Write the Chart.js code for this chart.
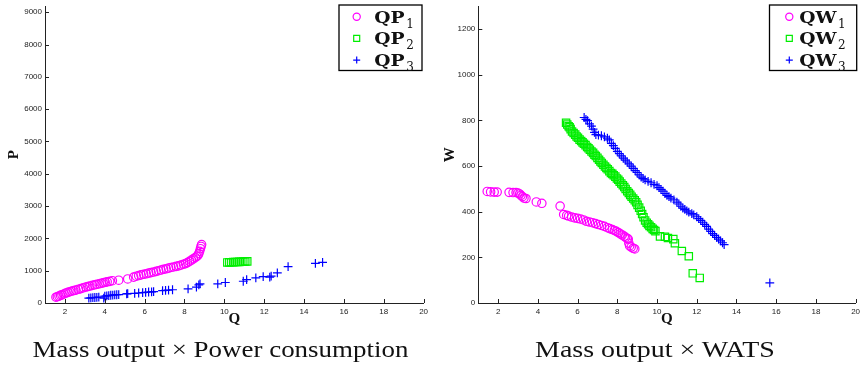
<!DOCTYPE html>
<html>
<head>
<meta charset="utf-8">
<script src="https://cdn.jsdelivr.net/npm/chart.js@4.4.0/dist/chart.umd.min.js"></script>
<style>
  body { margin: 0; width: 862px; height: 370px; overflow: hidden; background: #fff; position: relative; }
  .box { position: absolute; top: 0; }
  .cap { position: absolute; top: 336.6px; font-family: "Liberation Serif", serif; font-size: 24px; line-height: 24px;
         white-space: nowrap; color: #111; transform-origin: center; }
</style>
</head>
<body>
<div class="box" style="left:0"><canvas id="chartP" width="430" height="370"></canvas></div>
<div class="box" style="left:430px"><canvas id="chartW" width="432" height="370"></canvas></div>
<div id="capP" class="cap">Mass output × Power consumption</div>
<div id="capW" class="cap">Mass output × WATS</div>
<script>
// ---- data ----
var qTicks = [2, 4, 6, 8, 10, 12, 14, 16, 18, 20];
var pTicks = [0, 1000, 2000, 3000, 4000, 5000, 6000, 7000, 8000, 9000];
var wTicks = [0, 200, 400, 600, 800, 1000, 1200];

// Mass output x Power consumption
var qp1Q = [1.55,1.62,1.7,1.78,1.85,1.95,2.05,2.15,2.25,2.35,2.45,2.55,2.68,2.8,2.92,3.05,3.15,3.25,3.38,3.5,3.6,3.72,3.82,3.92,4.02,4.12,4.25,4.38,4.7,5.15,5.45,5.58,5.7,5.82,5.95,6.08,6.2,6.32,6.45,6.58,6.7,6.82,6.95,7.08,7.2,7.32,7.45,7.58,7.7,7.82,7.95,8.05,8.15,8.25,8.35,8.45,8.55,8.62,8.68,8.72,8.76,8.8,8.83,8.86];
var qp1P = [180,195,215,235,255,280,310,330,350,370,385,400,425,445,470,495,510,525,545,565,580,595,610,625,640,655,670,690,705,745,800,830,850,870,890,905,925,940,960,980,1000,1020,1045,1060,1080,1100,1115,1135,1150,1175,1200,1220,1250,1290,1330,1370,1410,1440,1480,1530,1600,1680,1750,1810];
var qp2Q = [10.15,10.25,10.35,10.45,10.55,10.65,10.75,10.85,10.95,11.05,11.15];
var qp2P = [1255,1258,1262,1265,1268,1270,1273,1276,1280,1284,1288];
var qp3Q = [3.2,3.3,3.4,3.5,3.6,3.7,3.95,4.0,4.1,4.2,4.3,4.4,4.5,4.6,4.7,5.1,5.15,5.5,5.7,5.9,6.05,6.2,6.35,6.45,6.9,7.05,7.2,7.4,8.18,8.6,8.72,8.78,9.67,10.05,10.95,11.12,11.58,11.95,12.28,12.35,12.66,13.2,14.57,14.93];
var qp3P = [150,160,165,170,175,180,150,210,220,230,240,245,250,255,260,280,290,300,310,320,330,340,345,350,380,390,400,410,440,490,560,594,594,634,673,725,777,817,800,830,930,1123,1224,1255];

// Mass output x WATS
var qw1Q = [1.45,1.62,1.8,1.95,2.55,2.75,2.9,3.0,3.08,3.15,3.22,3.3,3.4,3.92,4.2,5.12,5.3,5.45,5.55,5.7,5.85,6.0,6.15,6.3,6.45,6.6,6.75,6.9,7.05,7.2,7.35,7.5,7.62,7.75,7.85,7.95,8.05,8.15,8.25,8.35,8.42,8.5,8.55,8.58,8.62,8.7,8.8,8.88];
var qw1W = [489,487,486,486,485,484,484,482,478,472,466,460,458,443,437,425,388,384,381,377,373,371,368,364,358,355,352,348,344,340,336,330,326,322,318,314,309,303,298,292,288,283,280,262,250,245,240,237];
var qw2Q = [5.42,5.48,5.55,5.6,5.65,5.72,5.8,5.88,5.95,6.02,6.1,6.18,6.25,6.32,6.4,6.48,6.55,6.62,6.7,6.78,6.85,6.92,7.0,7.08,7.15,7.22,7.3,7.38,7.45,7.52,7.6,7.68,7.75,7.82,7.9,7.98,8.05,8.12,8.2,8.28,8.35,8.42,8.5,8.58,8.65,8.72,8.8,8.88,8.95,9.02,9.1,9.18,9.25,9.32,9.4,9.48,9.55,9.62,9.7,9.78,9.85,9.92,10.15,10.4,10.55,10.82,10.9,11.25,11.6,11.8,12.15];
var qw2W = [790,782,775,770,762,752,745,738,730,724,716,710,704,698,692,684,678,672,664,658,650,644,636,628,620,614,606,598,592,586,578,570,566,560,554,546,540,532,524,516,508,500,490,482,474,466,458,450,442,430,418,404,390,376,362,352,345,338,332,325,320,315,292,290,285,280,262,228,205,130,110];
var qw3Q = [6.33,6.42,6.5,6.6,6.7,6.78,6.85,6.92,7.05,7.2,7.35,7.5,7.6,7.7,7.8,7.9,8.0,8.1,8.2,8.3,8.4,8.5,8.6,8.7,8.8,8.9,9.0,9.1,9.2,9.3,9.4,9.55,9.7,9.85,10.0,10.1,10.2,10.3,10.4,10.5,10.6,10.7,10.85,11.0,11.1,11.2,11.3,11.4,11.5,11.6,11.75,11.85,12.0,12.1,12.2,12.3,12.4,12.5,12.6,12.7,12.8,12.9,13.0,13.1,13.2,13.3,13.38,15.68];
var qw3W = [813,805,799,785,775,762,748,738,736,733,728,722,715,700,690,678,665,655,645,635,626,618,610,600,590,580,572,562,552,545,540,533,527,520,514,506,498,490,480,472,466,460,452,442,434,424,416,410,404,398,392,386,378,370,362,354,345,336,324,314,304,296,288,280,272,264,256,88];

var magenta = '#ff00ff', green = '#00ee00', blue = '#0000ff';
var axisColor = '#222';

function pts(xs, ys) {
  return xs.map(function (x, i) { return { x: x, y: ys[i] }; });
}

function drawMarker(ctx, style, x, y, color) {
  ctx.strokeStyle = color;
  ctx.lineWidth = 1.2;
  ctx.beginPath();
  if (style === 'circle') {
    ctx.arc(x, y, 3.6, 0, Math.PI * 2);
  } else if (style === 'rect') {
    ctx.rect(x - 3, y - 3, 6, 6);
  } else {
    ctx.moveTo(x - 3.5, y); ctx.lineTo(x + 3.5, y);
    ctx.moveTo(x, y - 3.5); ctx.lineTo(x, y + 3.5);
  }
  ctx.stroke();
}

// boxed legend with subscripts, like the matlab one
var boxLegend = {
  id: 'boxLegend',
  afterDraw: function (chart, args, o) {
    var ctx = chart.ctx;
    ctx.save();
    ctx.fillStyle = '#fff';
    ctx.fillRect(o.x, o.y, o.w, o.h);
    ctx.strokeStyle = '#000';
    ctx.lineWidth = 1.3;
    ctx.strokeRect(o.x, o.y, o.w, o.h);
    chart.data.datasets.forEach(function (ds, i) {
      var cy = o.y + o.rowTop + i * o.rowGap;
      drawMarker(ctx, ds.pointStyle, o.markerX, cy, ds.borderColor);
      var base = ds.label.slice(0, -1), sub = ds.label.slice(-1);
      ctx.fillStyle = '#111';
      ctx.textBaseline = 'alphabetic';
      ctx.font = 'bold 17px "DejaVu Serif"';
      ctx.save();
      ctx.translate(o.textX, cy + 6);
      ctx.scale(o.stretch, 1);
      ctx.fillText(base, 0, 0);
      var w = ctx.measureText(base).width * o.stretch;
      ctx.restore();
      ctx.font = '12px "DejaVu Serif"';
      ctx.fillText(sub, o.textX + w + 1.5, cy + 11);
    });
    ctx.restore();
  }
};

// matlab style ticks pointing into the plot
var innerTicks = {
  id: 'innerTicks',
  afterDraw: function (chart) {
    var ctx = chart.ctx, a = chart.chartArea, sx = chart.scales.x, sy = chart.scales.y;
    ctx.save();
    ctx.strokeStyle = axisColor;
    ctx.lineWidth = 1;
    ctx.beginPath();
    sx.ticks.forEach(function (t, i) {
      var px = Math.round(sx.getPixelForTick(i)) + 0.5;
      ctx.moveTo(px, a.bottom); ctx.lineTo(px, a.bottom - 4);
    });
    sy.ticks.forEach(function (t, i) {
      var py = Math.round(sy.getPixelForTick(i)) + 0.5;
      ctx.moveTo(a.left, py); ctx.lineTo(a.left + 4, py);
    });
    ctx.stroke();
    ctx.restore();
  }
};

var tickFont = { family: 'Liberation Sans', size: 8 };
var titleFont = { family: 'Liberation Serif', weight: 'bold' };

function makeChart(id, cfg) {
  return new Chart(document.getElementById(id), {
    type: 'scatter',
    data: {
      datasets: [
        { label: cfg.names[0], data: cfg.s1, pointStyle: 'circle', pointRadius: 4.2, borderColor: magenta, backgroundColor: 'transparent', borderWidth: 1.2 },
        { label: cfg.names[1], data: cfg.s2, pointStyle: 'rect', pointRadius: 5.2, borderColor: green, backgroundColor: 'transparent', borderWidth: 1.2 },
        { label: cfg.names[2], data: cfg.s3, pointStyle: 'cross', pointRadius: 4.4, borderColor: blue, backgroundColor: 'transparent', borderWidth: 1.2 }
      ]
    },
    options: {
      responsive: false,
      animation: false,
      layout: { padding: { left: 0, right: cfg.padRight, top: 3, bottom: 37 } },
      plugins: {
        legend: { display: false },
        tooltip: { enabled: false },
        boxLegend: cfg.legend
      },
      scales: {
        x: {
          type: 'linear', min: 1, max: 20,
          afterBuildTicks: function (s) { s.ticks = qTicks.map(function (v) { return { value: v }; }); },
          afterFit: function (s) { s.height = 30; s.paddingLeft = 0; s.paddingRight = 0; },
          grid: { display: false, drawTicks: false },
          border: { display: true, color: axisColor, width: 1 },
          ticks: { font: tickFont, color: '#222', padding: 4, maxRotation: 0, autoSkip: false,
                   callback: function (v) { return String(v); } },
          title: { display: true, text: 'Q', color: '#111', font: Object.assign({ size: 15 }, titleFont), padding: { top: 0, bottom: 4.5 } }
        },
        y: {
          type: 'linear', min: 0, max: cfg.yMax,
          afterBuildTicks: function (s) { s.ticks = cfg.yTicks.map(function (v) { return { value: v }; }); },
          afterFit: function (s) { s.width = cfg.yWidth; s.paddingTop = 0; s.paddingBottom = 0; },
          grid: { display: false, drawTicks: false },
          border: { display: true, color: axisColor, width: 1 },
          ticks: { font: tickFont, color: '#222', padding: 3, autoSkip: false,
                   callback: function (v) { return String(v); } },
          title: { display: true, text: cfg.yTitle, color: '#111', font: Object.assign({ size: 15 }, titleFont), padding: { top: cfg.yTitlePad, bottom: 0 } }
        }
      }
    },
    plugins: [innerTicks, boxLegend]
  });
}

makeChart('chartP', {
  names: ['QP1', 'QP2', 'QP3'],
  s1: pts(qp1Q, qp1P), s2: pts(qp2Q, qp2P), s3: pts(qp3Q, qp3P),
  yMax: 9180, yTicks: pTicks, yWidth: 45, yTitle: 'P', yTitlePad: 5, padRight: 4.3,
  legend: { x: 339, y: 5, w: 83, h: 65.5, markerX: 356.7, textX: 374.3, rowTop: 11.7, rowGap: 21.7, stretch: 1.1 }
});

makeChart('chartW', {
  names: ['QW1', 'QW2', 'QW3'],
  s1: pts(qw1Q, qw1W), s2: pts(qw2Q, qw2W), s3: pts(qw3Q, qw3W),
  yMax: 1300, yTicks: wTicks, yWidth: 48.3, yTitle: 'W', yTitlePad: 11, padRight: 3.7,
  legend: { x: 339.5, y: 5, w: 87.2, h: 65.5, markerX: 359.3, textX: 369.3, rowTop: 11.7, rowGap: 21.7, stretch: 1.1 }
});

function placeCaption(id, cx, target) {
  var el = document.getElementById(id);
  var w = el.offsetWidth;
  el.style.left = (cx - w / 2) + 'px';
  el.style.transform = 'scaleX(' + (target / w) + ')';
}
placeCaption('capP', 220, 376);
placeCaption('capW', 655, 240);
</script>
</body>
</html>
